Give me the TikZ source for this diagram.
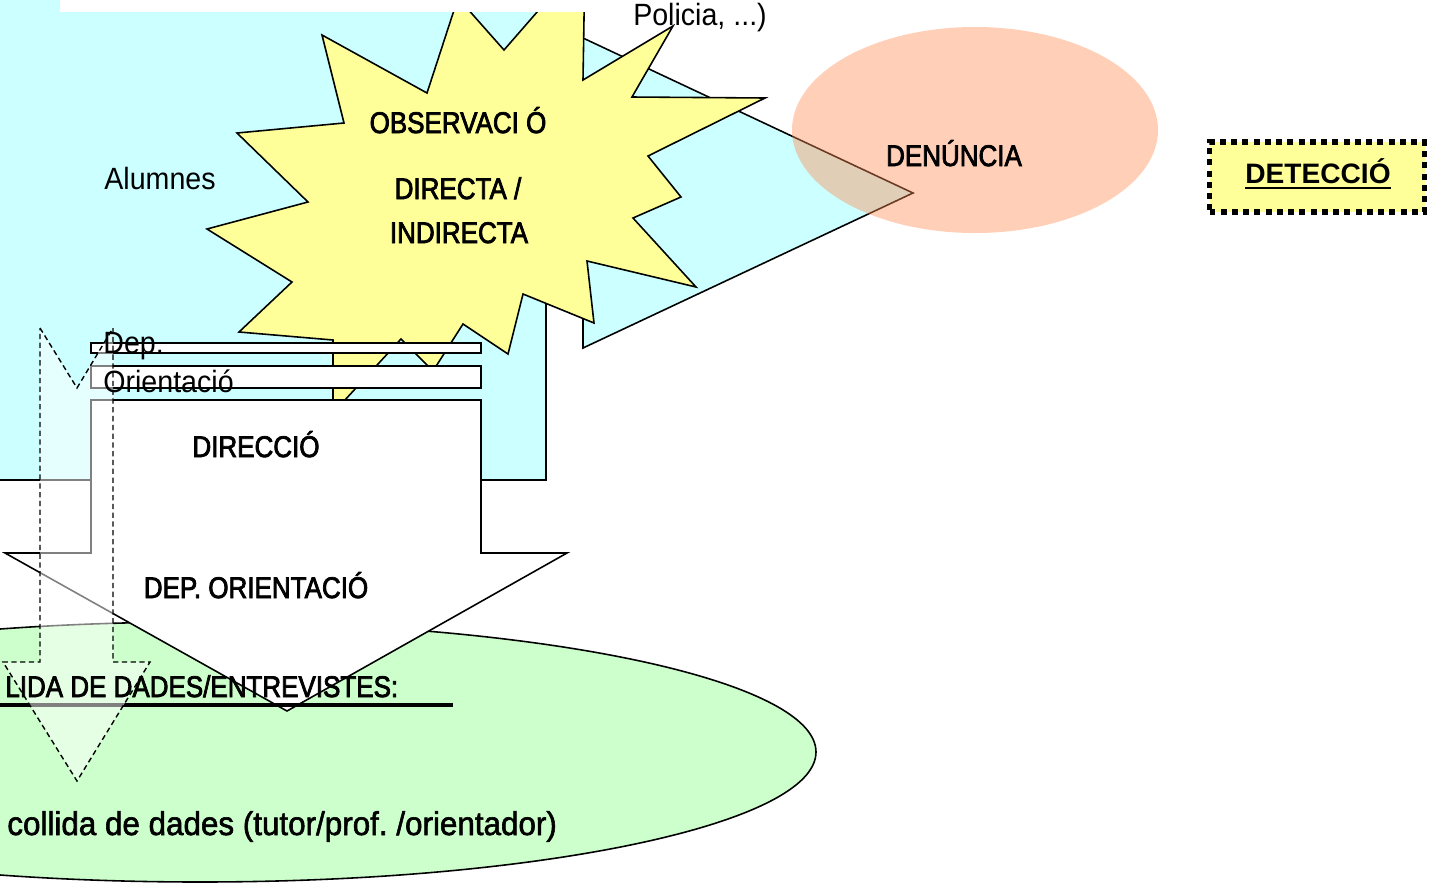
\documentclass[tikz,border=0pt]{standalone}
\usepackage{fontspec}
\setmainfont{Liberation Sans}
\newfontfamily\regfont[FakeStretch=0.93]{Liberation Sans}
\newfontfamily\medfont[FakeStretch=0.87,FakeBold=2.5]{Liberation Sans}
\newfontfamily\collfont[FakeStretch=0.95,FakeBold=1.8]{Liberation Sans}
\usetikzlibrary{positioning}
\frenchspacing

\definecolor{cyanfill}{RGB}{204,255,255}
\definecolor{starfill}{RGB}{255,255,153}
\definecolor{greenfill}{RGB}{204,255,204}
\definecolor{peach}{RGB}{255,140,85}

\tikzset{
  cyanshape/.style={fill=cyanfill,draw=black,line width=0.9pt},
  starshape/.style={fill=starfill,draw=black,line width=0.9pt},
  greenshape/.style={fill=greenfill,draw=black,line width=0.9pt},
  boxshape/.style={fill=white,draw=black,line width=0.9pt},
  dashshape/.style={fill=white,fill opacity=0.5,draw=black,draw opacity=1,
    line width=0.8pt,dash pattern=on 3pt off 2pt},
  lbl/.style={inner sep=0pt,font=\regfont\fontsize{17.5}{21}\selectfont},
  hdr/.style={inner sep=0pt,font=\medfont\fontsize{17}{20}\selectfont},
  detbox/.style={fill=starfill,draw=black,line width=3.4pt,
    dash pattern=on 3.4pt off 3pt,minimum width=43mm,minimum height=14mm},
}

\begin{document}
\begin{tikzpicture}[x=0.2mm,y=-0.2mm]
  \useasboundingbox (0,0) rectangle (1430,884);

  % cyan block and its head
  \filldraw[cyanshape] (-20,-120) rectangle (546,480);
  \filldraw[cyanshape] (583,38) -- (913,193) -- (583,348) -- cycle;

  % star
  \filldraw[starshape] (322,35) -- (427,93) -- (458,-2) -- (504,50) -- (585,-43)
    -- (583,80) -- (673,26) -- (632,97) -- (765,98) -- (648,156) -- (681,197)
    -- (633,218) -- (696,287) -- (587,261) -- (594,323) -- (523,294) -- (508,354)
    -- (463,324) -- (433,371) -- (401,339) -- (333,413) -- (333,340) -- (239,332)
    -- (292,282) -- (207,229) -- (308,202) -- (237,133) -- (344,123) -- cycle;

  % white strip on top
  \fill[white] (60,-10) rectangle (587,12);

  % denuncia ellipse
  \fill[peach,fill opacity=0.42] (975,130) ellipse [x radius=183, y radius=103];

  % green ellipse
  \filldraw[greenshape] (200,752) ellipse [x radius=616, y radius=130];

  % dep. boxes
  \filldraw[boxshape] (91,343) rectangle (481,353);
  \filldraw[boxshape] (91,366) rectangle (481,388);

  % white down arrow
  \filldraw[boxshape] (91,400) -- (481,400) -- (481,553) -- (567,553)
    -- (287,711) -- (5,553) -- (91,553) -- cycle;

  \draw[line width=2pt] (0,705) -- (453,705);

  % dashed arrow
  \filldraw[dashshape] (40,328) -- (77,388) -- (113,328) -- (113,662)
    -- (150,662) -- (77,781) -- (3,662) -- (40,662) -- cycle;

  % texts
  \node[lbl,anchor=base] (alumnes) at (160,189) {Alumnes};
  \node[lbl,anchor=base] (policia) at (700,25) {Policia, ...)};
  \node[hdr,anchor=base] (observacio) at (458,133) {OBSERVACI Ó};
  \node[hdr,anchor=base] (directa) at (458,199) {DIRECTA /};
  \node[hdr,anchor=base] (indirecta) at (459,243) {INDIRECTA};
  \node[hdr,anchor=base] (denuncia) at (954,166) {DENÚNCIA};
  \node[hdr,anchor=base] (direccio) at (256,457) {DIRECCIÓ};
  \node[hdr,anchor=base] (deporient) at (256,598) {DEP. ORIENTACIÓ};
  \node[lbl,anchor=base west] (dep) at (103,353) {Dep.};
  \node[lbl,anchor=base west] (orientacio) at (103,392) {Orientació};
  \node[hdr,anchor=base west] (recollida) at (5,697) {LIDA DE DADES/ENTREVISTES:};
  \node[inner sep=0pt,anchor=base west,font=\collfont\fontsize{18.8}{21}\selectfont]
    (collida) at (7,835) {collida de dades (tutor/prof. /orientador)};

  % deteccio
  \node[detbox] (detbox) at (1317,177) {};
  \node[inner sep=0pt,anchor=base,font=\bfseries\fontsize{16}{19}\selectfont]
    (deteccio) at (1318,183) {DETECCIÓ};
  \draw[line width=1.6pt] ([yshift=-2.8pt]deteccio.base west) -- ([yshift=-2.8pt]deteccio.base east);
\end{tikzpicture}
\end{document}
